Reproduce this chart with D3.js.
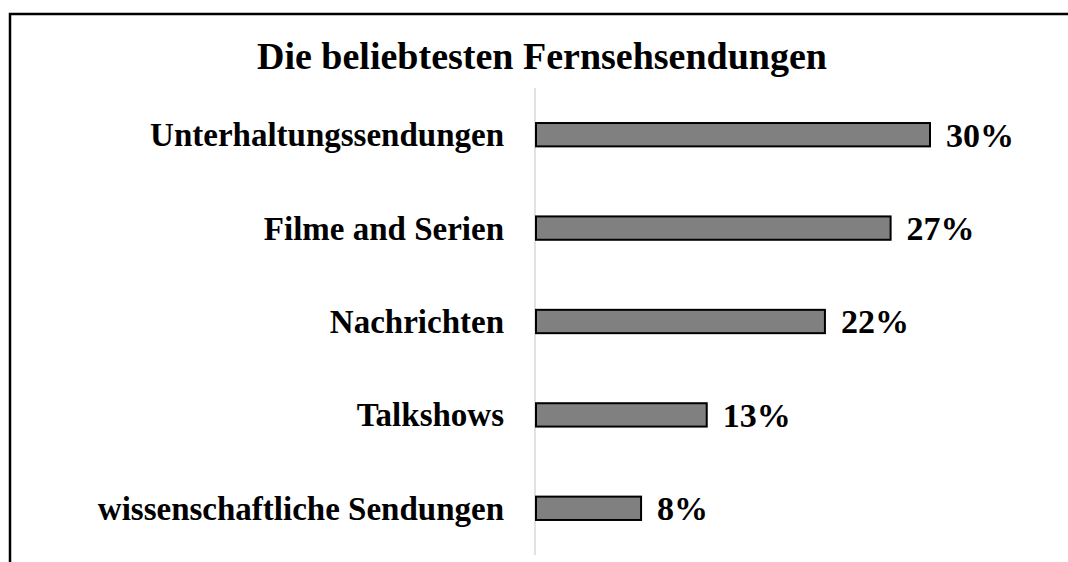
<!DOCTYPE html>
<html>
<head>
<meta charset="utf-8">
<script src="https://cdn.jsdelivr.net/npm/d3@7"></script>
<style>
  html, body { margin: 0; padding: 0; background: #fff; overflow: hidden; }
  svg { display: block; }
</style>
</head>
<body>
<div id="chart"></div>
<script>
const categories = [
  "Unterhaltungssendungen",
  "Filme and Serien",
  "Nachrichten",
  "Talkshows",
  "wissenschaftliche Sendungen",
];
const values = [30, 27, 22, 13, 8];
const title = "Die beliebtesten Fernsehsendungen";

const width = 1068;
const height = 562;
const font = "'Liberation Serif', 'Times New Roman', serif";

const svg = d3
  .select("#chart")
  .append("svg")
  .attr("width", width)
  .attr("height", height);

// Outer frame (runs past the right and bottom edge)
svg
  .append("rect")
  .attr("x", 10)
  .attr("y", 14)
  .attr("width", width + 20)
  .attr("height", height + 20)
  .attr("fill", "#fff")
  .attr("stroke", "#000")
  .attr("stroke-width", 2.5);

svg
  .append("text")
  .attr("x", 542)
  .attr("y", 69)
  .attr("text-anchor", "middle")
  .attr("font-family", font)
  .attr("font-weight", "bold")
  .attr("font-size", "38px")
  .attr("fill", "#000")
  .text(title);

const x = d3.scaleLinear().domain([0, 30]).range([536, 930]);
const y = d3
  .scaleBand()
  .domain(categories)
  .range([88, 555])
  .paddingInner(0.75)
  .paddingOuter(0.375);

// Category axis line
svg
  .append("line")
  .attr("x1", x(0) - 1)
  .attr("x2", x(0) - 1)
  .attr("y1", y.range()[0])
  .attr("y2", y.range()[1])
  .attr("stroke", "#d9d9d9")
  .attr("stroke-width", 1.5);

const rows = categories.map((c, i) => ({ name: c, value: values[i] }));

svg
  .append("g")
  .selectAll("rect")
  .data(rows)
  .join("rect")
  .attr("x", x(0))
  .attr("y", (d) => y(d.name))
  .attr("width", (d) => x(d.value) - x(0))
  .attr("height", y.bandwidth())
  .attr("fill", "#808080")
  .attr("stroke", "#000")
  .attr("stroke-width", 2);

// Category labels
svg
  .append("g")
  .selectAll("text")
  .data(rows)
  .join("text")
  .attr("x", 504)
  .attr("y", (d) => y(d.name) + y.bandwidth() / 2)
  .attr("dy", "0.35em")
  .attr("text-anchor", "end")
  .attr("font-family", font)
  .attr("font-weight", "bold")
  .attr("font-size", "33px")
  .attr("fill", "#000")
  .text((d) => d.name);

// Value labels
svg
  .append("g")
  .selectAll("text")
  .data(rows)
  .join("text")
  .attr("x", (d) => x(d.value) + 16)
  .attr("y", (d) => y(d.name) + y.bandwidth() / 2)
  .attr("dy", "0.35em")
  .attr("font-family", font)
  .attr("font-weight", "bold")
  .attr("font-size", "34px")
  .attr("fill", "#000")
  .text((d) => d.value + "%");
</script>
</body>
</html>
